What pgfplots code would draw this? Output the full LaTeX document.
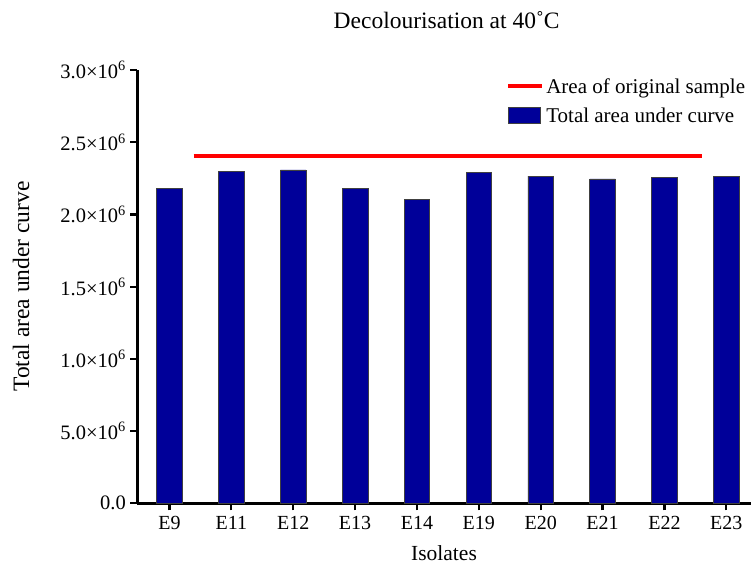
\documentclass[border=0pt]{standalone}
\usepackage{fontspec}
\setmainfont{Liberation Serif}
\usepackage{pgfplots}
\pgfplotsset{compat=1.18}
\definecolor{barblue}{RGB}{0,0,153}
\begin{document}
\begin{tikzpicture}[font=\rmfamily]
\path[use as bounding box] (-137.3pt,-62.7pt) rectangle (613.7pt,503.3pt);
\begin{axis}[
  scale only axis,
  width=613.7pt, height=433.3pt,
  at={(0pt,0pt)}, anchor=south west,
  xmin=-0.52, xmax=9.40,
  ymin=0, ymax=3e6,
  clip=false,
  axis x line=bottom, axis y line=left,
  axis line style={-, line width=2.5pt, black},
  tick align=outside,
  major tick length=7pt,
  tick style={black, line width=2.2pt},
  xtick={0,1,2,3,4,5,6,7,8,9},
  xticklabels={E9,E11,E12,E13,E14,E19,E20,E21,E22,E23},
  ytick={0,500000,1000000,1500000,2000000,2500000,3000000},
  yticklabels={0.0,{5.0×10\textsuperscript{6}},{1.0×10\textsuperscript{6}},{1.5×10\textsuperscript{6}},{2.0×10\textsuperscript{6}},{2.5×10\textsuperscript{6}},{3.0×10\textsuperscript{6}}},
  scaled y ticks=false,
  xticklabel style={font=\rmfamily\fontsize{20}{24}\selectfont, yshift=-2pt},
  yticklabel style={font=\rmfamily\fontsize{20.5}{24}\selectfont, xshift=-1pt},
  title={Decolourisation at 40˚C},
  title style={font=\rmfamily\fontsize{23.5}{28}\selectfont, at={(axis description cs:0.504,1.102)}, anchor=center},
  xlabel={Isolates},
  xlabel style={font=\rmfamily\fontsize{21.5}{26}\selectfont, at={(axis description cs:0.4998,-0.1147)}, anchor=center},
  ylabel={Total area under curve},
  ylabel style={font=\rmfamily\fontsize{23.5}{28}\selectfont, at={(axis description cs:-0.1895,0.5003)}, anchor=center, rotate=0},
  legend style={at={(axis description cs:0.994,0.986)}, anchor=north east, draw=none, fill=none,
    font=\rmfamily\fontsize{21}{25}\selectfont, row sep=9pt, inner sep=0pt,
    nodes={inner sep=2pt}},
  legend cell align=left,
]
\addplot[red, line width=3.5pt, legend image code/.code={\draw[red, line width=4pt] (0pt,0pt) -- (34pt,0pt);}]
  coordinates {(0.39,2406000) (8.61,2406000)};
\addlegendentry{Area of original sample}
\addplot[ybar, bar width=25.5pt, fill=barblue, draw=black!75, line width=0.6pt,
  legend image code/.code={\draw[fill=barblue, draw=black!75, line width=0.6pt] (0pt,-7.8pt) rectangle (32pt,7.8pt);}]
  coordinates {
  (0,2183000) (1,2300000) (2,2308000) (3,2178000) (4,2103000)
  (5,2293000) (6,2265000) (7,2246000) (8,2254000) (9,2265000)};
\addlegendentry{Total area under curve}
\end{axis}
\end{tikzpicture}
\end{document}
